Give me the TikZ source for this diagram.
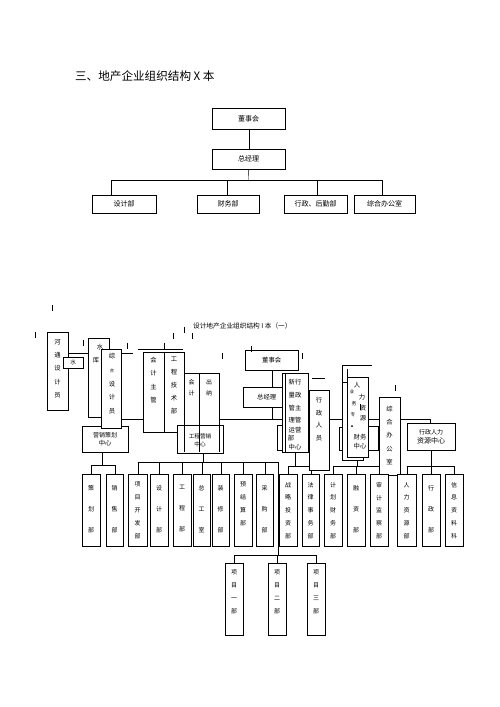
\documentclass[tikz,border=0pt]{standalone}
\usepackage{fontspec}
\setmainfont{Noto Sans CJK SC}
\usetikzlibrary{calc}
\pgfdeclarelayer{bg}
\pgfsetlayers{bg,main}
\newcommand\obox[7][]{\node[bx,minimum width={(#5-#3)*0.5mm},minimum height={(#6-#4)*0.5mm},#1] (#2) at (#3,#4) {#7};}
\newcommand\edgeL[1]{\draw[line width=1.2pt] (#1.north west) -- (#1.south west);}
\newcommand\edgeR[1]{\draw[line width=1.2pt] (#1.north east) -- (#1.south east);}
\newcommand\edgeRB[1]{\draw[line width=1.2pt] (#1.north east) -- (#1.south east) -- (#1.south west);}
\begin{document}
\begin{tikzpicture}[x=0.5mm,y=-0.5mm,
  bx/.style={draw,fill=white,line width=0.5pt,inner sep=0,anchor=north west,align=center},
  ln/.style={line width=0.5pt},
  vt/.style={anchor=north,inner sep=0,align=center},
  f10/.style={font=\fontsize{10pt}{12pt}\selectfont},
  f9/.style={font=\fontsize{9pt}{11pt}\selectfont},
  f8/.style={font=\fontsize{8pt}{10pt}\selectfont},
  tick/.style={line width=0.5pt}]
\useasboundingbox (0,0) rectangle (500,707);

% ---------------- top chart ----------------
\node[anchor=west,inner sep=0,font=\fontsize{16.5pt}{18pt}\selectfont] (title) at (75,76) {三、地产企业组织结构\ X\ 本};
\obox[f10]{dsh}{212}{108}{285}{129}{董事会}
\obox[f10]{zjl}{212}{149}{285}{169}{总经理}
\obox[f10]{sjb}{92}{195}{156}{213}{设计部}
\obox[f10]{cwb}{197}{195}{259}{213}{财务部}
\obox[f10]{xzhq}{284}{195}{347}{213}{行政、后勤部}
\obox[f10]{zhbg}{354}{195}{415}{213}{综合办公室}
\foreach \n in {dsh,zjl,sjb,cwb,xzhq,zhbg} {\edgeRB{\n}}

\begin{pgfonlayer}{bg}
\draw[ln] (dsh.south) -- (zjl.north);
\coordinate (h0) at (248.5,180);
\draw[ln] (zjl.south) -- (h0);
\coordinate (h1) at (111,180); \coordinate (h2) at (227,180);
\coordinate (h3) at (317,180); \coordinate (h4) at (382,180);
\draw[ln] (h1) -- (h4);
\draw[ln] (h1) -- (h1 |- sjb.north);
\draw[ln] (h2) -- (h2 |- cwb.north);
\draw[ln] (h3) -- (h3 |- xzhq.north);
\draw[ln] (h4) -- (h4 |- zhbg.north);
\end{pgfonlayer}

% ---------------- bottom chart ----------------
\node[anchor=west,inner sep=0,font=\fontsize{9.5pt}{11pt}\selectfont] (title2) at (193,326) {设计地产企业组织结构 I 本（一）};

% upper boxes
\obox{htsj}{47}{332}{68}{410}{}
\node[vt,font=\fontsize{9pt}{18.9pt}\selectfont] (t-htsj) at (57.5,339) {河\\通\\设\\计\\员};
\obox[f8]{shui}{63}{357}{83}{368}{水}
\obox{shk}{88}{338}{109}{417}{}
\node[f9,inner sep=0] (t-shk1) at (100,347) {水};
\node[f9,inner sep=0] (t-shk2) at (96,360) {库};
\fill (103,374) circle (1.2);
\obox[f9]{yx}{82}{426}{128}{452}{\fontsize{8.5pt}{11pt}\selectfont 营销策划\\中心}
\obox[line width=1.1pt]{zhsj}{101}{349}{121}{428}{}
\node[f9,inner sep=0] (t-zh1) at (112,356) {综};
\node[inner sep=0,font=\fontsize{6pt}{7pt}\selectfont] (t-zh2) at (112,371) {合};
\node[vt,font=\fontsize{9pt}{19pt}\selectfont] (t-zh3) at (112,381) {设\\计\\员};

\obox{kjzg}{143}{352}{164}{432}{}
\node[vt,font=\fontsize{9pt}{18.9pt}\selectfont] (t-kjzg) at (153.5,357) {会\\计\\主\\管};
\obox{gcjs}{164}{352}{184}{432}{}
\node[vt,font=\fontsize{9pt}{18.5pt}\selectfont] (t-gcjs) at (174,357) {工\\程\\技\\术\\部};
\obox{kj}{184}{373}{199}{452}{}
\obox{cn}{199}{373}{219}{452}{}
\node[vt,font=\fontsize{8.5pt}{15.6pt}\selectfont] (t-kj) at (191.5,379) {会\\计};
\node[vt,font=\fontsize{8.5pt}{15.6pt}\selectfont] (t-cn) at (209,379) {出\\纳};
\obox{gyx}{177}{425}{223}{453}{}
\draw[line width=1.2pt] (gyx.north west) -- (gyx.south west) -- (gyx.south east);
\draw[ln] (kj.west |- gyx.north) -- (kj.south west);
\draw[ln] (kj.east |- gyx.north) -- (kj.south east);
\draw[ln] (cn.east |- gyx.north) -- (cn.south east);
\node[vt,font=\fontsize{8pt}{11.5pt}\selectfont] (t-gyx) at (200,434) {工程营销\\中心};

\obox[f9]{dsh2}{245}{350}{298}{370}{董事会}
\obox[f9]{zjl2}{243}{387}{290}{407}{总经理}
\obox{bk1}{277}{425}{284}{450}{}
\obox{xxz}{282}{373}{308}{452}{}
\draw[line width=1pt] (xxz.north west) -- (xxz.south west);
\draw[ln] (285.5,373) -- (285.5,452);
\edgeR{xxz}
\node[f9,inner sep=0] (r1) at (295,382) {新行};
\node[f9,inner sep=0] (r2) at (295,395) {量政};
\node[f9,inner sep=0] (r3) at (295,408) {管主};
\node[f9,inner sep=0] (r4) at (295,420) {理管};
\node[f9,inner sep=0] (r5) at (295,430) {运营};
\node[f9,inner sep=0] (r6) at (291,438) {部};
\node[f9,inner sep=0] (r7) at (295,447) {中心};

\obox{xzry}{309}{390}{329}{470}{}
\node[vt,font=\fontsize{9pt}{18pt}\selectfont] (t-xzry) at (319,397) {行\\政\\人\\员};

\obox{bk2}{339}{427}{344}{450}{}
\obox{rlbk}{342}{382}{363}{460}{}
\obox{bk3}{367}{426}{378}{450}{}
\obox{rlcw}{347}{377}{368}{457}{}
\draw[line width=1pt] (rlcw.north west) -- (rlcw.south west);
\node[f9,inner sep=0] (s1) at (357,385) {人};
\node[inner sep=0,font=\fontsize{6.5pt}{7pt}\selectfont] (s2) at (352,392) {业};
\node[f9,inner sep=0] (s3) at (362,397) {力};
\node[inner sep=0,font=\fontsize{7pt}{7pt}\selectfont] (s4) at (354,404) {务};
\node[f9,inner sep=0] (s5) at (363,408) {资};
\node[inner sep=0,font=\fontsize{6.5pt}{7pt}\selectfont] (s6) at (353,415) {专};
\node[f9,inner sep=0] (s7) at (363,418) {源};
\fill (352,426) circle (1);
\node[f9,inner sep=0] (s8) at (360,437) {财务};
\node[f9,inner sep=0] (s9) at (360,446) {中心};

\obox{zhbg2}{379}{397}{400}{475}{}
\node[vt,font=\fontsize{9pt}{18.8pt}\selectfont] (t-zhbg2) at (389.5,406) {综\\合\\办\\公\\室};
\obox{xzrl}{407}{423}{455}{450}{\fontsize{8.5pt}{17pt}\selectfont 行政人力\\资源中心}

% bottom row
\obox{chb}{82}{474}{100}{546}{}
\obox{xsb}{106}{474}{123}{546}{}
\obox{xmkf}{128}{474}{147}{546}{}
\obox{sjb2}{150}{474}{168}{546}{}
\obox{gcb}{173}{474}{191}{546}{}
\obox{zgs}{193}{474}{210}{546}{}
\obox{zxb}{212}{474}{229}{546}{}
\obox{yjs}{234}{474}{252}{546}{}
\obox{cgb}{256}{474}{273}{546}{}
\obox{zltz}{279}{474}{297}{546}{}
\obox{flsw}{302}{474}{319}{546}{}
\obox{jhcw}{324}{474}{342}{546}{}
\obox{rzb}{347}{474}{365}{546}{}
\obox{sjjc}{370}{474}{388}{546}{}
\obox{rlzy}{397}{474}{416}{546}{}
\obox{xzb2}{422}{474}{440}{546}{}
\obox{xxzl}{445}{474}{463}{546}{}
\obox{xm1}{225}{563}{243}{635}{}
\obox{xm2}{268}{563}{286}{635}{}
\obox{xm3}{307}{563}{325}{635}{}
\foreach \n in {xsb,xmkf,zxb,flsw,rzb,xm3} {\edgeL{\n}}
\foreach \n in {yjs,zltz} {\edgeR{\n}}

\tikzset{v3/.style={vt,font=\fontsize{8.5pt}{29.9pt}\selectfont},
         v5/.style={vt,font=\fontsize{8.5pt}{18.2pt}\selectfont}}
\foreach \n/\t in {chb/{策\\划\\部},xsb/{销\\售\\部},sjb2/{设\\计\\部},gcb/{工\\程\\部},zgs/{总\\工\\室},zxb/{装\\修\\部},cgb/{采\\购\\部},rzb/{融\\资\\部},xzb2/{行\\政\\部}}
  {\node[v3] (t-\n) at (\n.north |- 0,485) {\t};}
\foreach \n/\t in {xmkf/{项\\目\\开\\发\\部},yjs/{预\\结\\算\\部},zltz/{战\\略\\投\\资\\部},flsw/{法\\律\\事\\务\\部},jhcw/{计\\划\\财\\务\\部},sjjc/{审\\计\\监\\察\\部},rlzy/{人\\力\\资\\源\\部},xxzl/{信\\息\\资\\料\\科}}
  {\node[v5] (t-\n) at (\n.north |- 0,482) {\t};}
\foreach \n/\t in {xm1/{项\\目\\一\\部},xm2/{项\\目\\二\\部},xm3/{项\\目\\三\\部}}
  {\node[v5] (t-\n) at (\n.north |- 0,570) {\t};}

% connectors (behind boxes)
\begin{pgfonlayer}{bg}
\draw[ln] (65,353) -- (133,353);
\draw[ln] (138,349) -- (183,349);
\draw[ln] (164,343) -- (164,349);
\coordinate (c0) at (121,419);
\coordinate (c1) at (430,419);
\draw[ln] (c0) -- (c1) -- (c1 |- xzrl.north);
\coordinate (z0) at (272,380);
\draw[ln] (z0 |- dsh2.south) -- (z0 |- zjl2.north);
\draw[ln] (z0 |- zjl2.south) -- (272,419);
\draw[ln] (312,378) -- (325,378);
\draw[ln] (342,365) -- (342,382);
\draw[ln] (342,365) -- (372,365);
\draw[ln] (347,369) -- (347,377);
% marketing
\coordinate (m1) at (102,465);
\draw[ln] (m1 |- yx.south) -- (m1);
\draw[ln] (chb.north |- m1) -- (xsb.north |- m1);
\foreach \n in {chb,xsb} {\draw[ln] (\n.north |- m1) -- (\n.north);}
% engineering marketing
\coordinate (m2) at (203,462);
\coordinate (m3) at (278,462);
\coordinate (m4) at (278,555);
\draw[ln] (m2 |- gyx.south) -- (m2);
\draw[ln] (xmkf.north |- m2) -- (m3) -- (m4);
\foreach \n in {xmkf,sjb2,gcb,zgs,zxb,yjs,cgb} {\draw[ln] (\n.north |- m2) -- (\n.north);}
\draw[ln] (xm1.north |- m4) -- (xm3.north |- m4);
\foreach \n in {xm1,xm2,xm3} {\draw[ln] (\n.north |- m4) -- (\n.north);}
% admin
\coordinate (m5) at (295,466);
\draw[ln] (m5 |- xxz.south) -- (m5);
\draw[ln] (zltz.north |- m5) -- (flsw.north |- m5);
\foreach \n in {zltz,flsw} {\draw[ln] (\n.north |- m5) -- (\n.north);}
% finance
\coordinate (m6) at (357,466);
\draw[ln] (m6 |- rlcw.south) -- (m6);
\draw[ln] (jhcw.north |- m6) -- (sjjc.north |- m6);
\foreach \n in {jhcw,rzb,sjjc} {\draw[ln] (\n.north |- m6) -- (\n.north);}
% HR
\coordinate (m7) at (431,466);
\draw[ln] (m7 |- xzrl.south) -- (m7);
\draw[ln] (rlzy.north |- m7) -- (xxzl.north |- m7);
\foreach \n in {rlzy,xzb2,xxzl} {\draw[ln] (\n.north |- m7) -- (\n.north);}
\end{pgfonlayer}

% stray marks
\foreach \x/\y in {52/305,35/332,83/340,127/343,173/333,184/327,192/333,222/353,251/346,302/353,395/385,360/404}
  {\draw[tick] (\x,\y) -- ++(0,6);}
\end{tikzpicture}
\end{document}
